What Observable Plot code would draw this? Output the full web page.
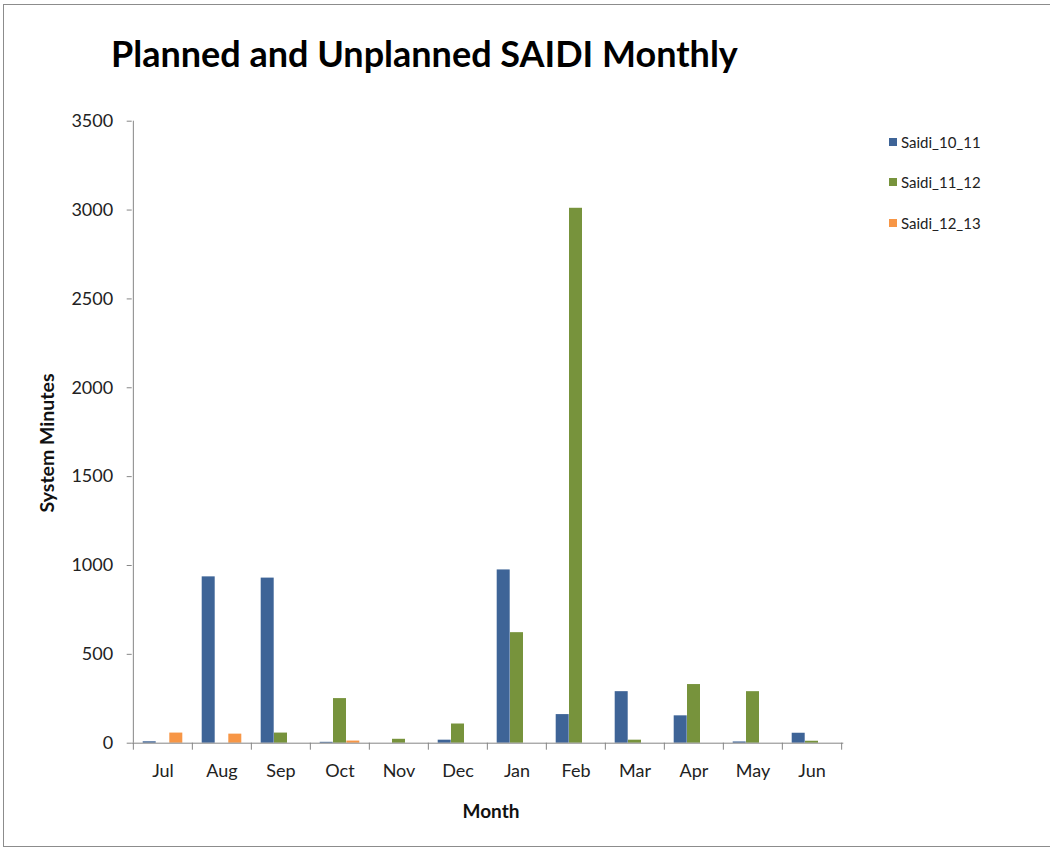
<!DOCTYPE html>
<html><head><meta charset="utf-8">
<script src="https://cdn.jsdelivr.net/npm/d3@7"></script>
<script src="https://cdn.jsdelivr.net/npm/@observablehq/plot@0.6"></script>
<style>
body{margin:0;background:#fff;overflow:hidden;font-family:Lato,sans-serif;color:#111;}
#wrap{position:relative;width:1050px;height:848px;overflow:hidden;}
#frame{position:absolute;left:3px;top:4px;width:1060px;height:843px;border:1px solid #8c8c8c;box-sizing:border-box;}
#title{position:absolute;left:111px;top:35px;font-size:36px;font-weight:700;color:#000;white-space:nowrap;line-height:1;}
#chart{position:absolute;left:0;top:100px;}
#ytitle{position:absolute;left:46px;top:443px;transform:translate(-50%,-50%) rotate(-90deg);font-weight:700;font-size:19.5px;white-space:nowrap;}
#xtitle{position:absolute;left:491px;top:810px;transform:translate(-50%,-50%);font-weight:700;font-size:19px;white-space:nowrap;}
#legend{position:absolute;left:889px;top:121.5px;}
.li{display:flex;align-items:center;height:40.5px;font-size:15px;color:#222;}
.sw{width:8px;height:8px;margin-right:4px;}
</style></head>
<body>
<div id="wrap">
  <div id="frame"></div>
  <div id="title">Planned and Unplanned SAIDI Monthly</div>
  <div id="chart"></div>
  <div id="ytitle">System Minutes</div>
  <div id="xtitle">Month</div>
  <div id="legend"></div>
</div>
<script>
const months = ["Jul","Aug","Sep","Oct","Nov","Dec","Jan","Feb","Mar","Apr","May","Jun"];
const seriesNames = ["Saidi_10_11","Saidi_11_12","Saidi_12_13"];
const saidi_10_11 = [8, 936, 929, 5, 0, 17, 975, 161, 290, 154, 7, 56];
const saidi_11_12 = [0, 0, 57, 251, 22, 108, 622, 3010, 17, 330, 290, 11];
const saidi_12_13 = [57, 51, 0, 12, 0, 0, 0, 0, 0, 0, 0, 0];
const yTicks = [0, 500, 1000, 1500, 2000, 2500, 3000, 3500];
const colors = ["#3E6497", "#77933C", "#F79646"];

const seriesValues = [saidi_10_11, saidi_11_12, saidi_12_13];
const rows = [];
seriesNames.forEach((s, i) => months.forEach((m, j) => rows.push({month: m, series: s, value: seriesValues[i][j]})));

const W = 1050, H = 748;
const mL = 131.7, mR = 1050 - 843.3, mT = 20.7, mB = H - (742.7 - 100);
const bw = (W - mL - mR) / months.length;
const barW = 13.3;
const inset = (bw - barW) / 2;
const axisColor = "#868686";

const barMarks = seriesNames.map((s, i) =>
  Plot.barY(rows.filter(r => r.series === s), {
    x: "month", y: "value", fill: "series",
    insetLeft: inset, insetRight: inset, dx: (i - 1) * barW
  })
);

const chart = Plot.plot({
  width: W, height: H,
  marginLeft: mL, marginRight: mR, marginTop: mT, marginBottom: mB,
  style: {fontFamily: "Lato, sans-serif", fontSize: "18px", color: "#222", background: "transparent"},
  x: {domain: months, padding: 0},
  y: {domain: [0, 3500]},
  color: {domain: seriesNames, range: colors},
  marks: [
    ...barMarks,
    Plot.ruleY([0], {stroke: axisColor}),
    Plot.ruleX([months[0]], {dx: -bw / 2, y1: 0, y2: 3500, stroke: axisColor}),
    Plot.axisY(yTicks, {tickSize: 5, tickPadding: 14, tickFormat: d3.format("d"), stroke: axisColor, fill: "#222", label: null, fontSize: 18}),
    Plot.axisX(months, {tickSize: 7, tickFormat: () => "", dx: -bw / 2, stroke: axisColor, label: null}),
    Plot.axisX([months[months.length - 1]], {tickSize: 7, tickFormat: () => "", dx: bw / 2, stroke: axisColor, label: null}),
    Plot.axisX(months, {tickSize: 0, tickPadding: 21, fill: "#222", label: null, fontSize: 18})
  ]
});
document.getElementById("chart").appendChild(chart);

const color = chart.scale("color");
const legend = document.getElementById("legend");
seriesNames.forEach((s, i) => {
  const d = document.createElement("div");
  d.className = "li";
  d.innerHTML = `<span class="sw" style="background:${color.range[i]}"></span><span>${s}</span>`;
  legend.appendChild(d);
});
</script>
</body></html>
